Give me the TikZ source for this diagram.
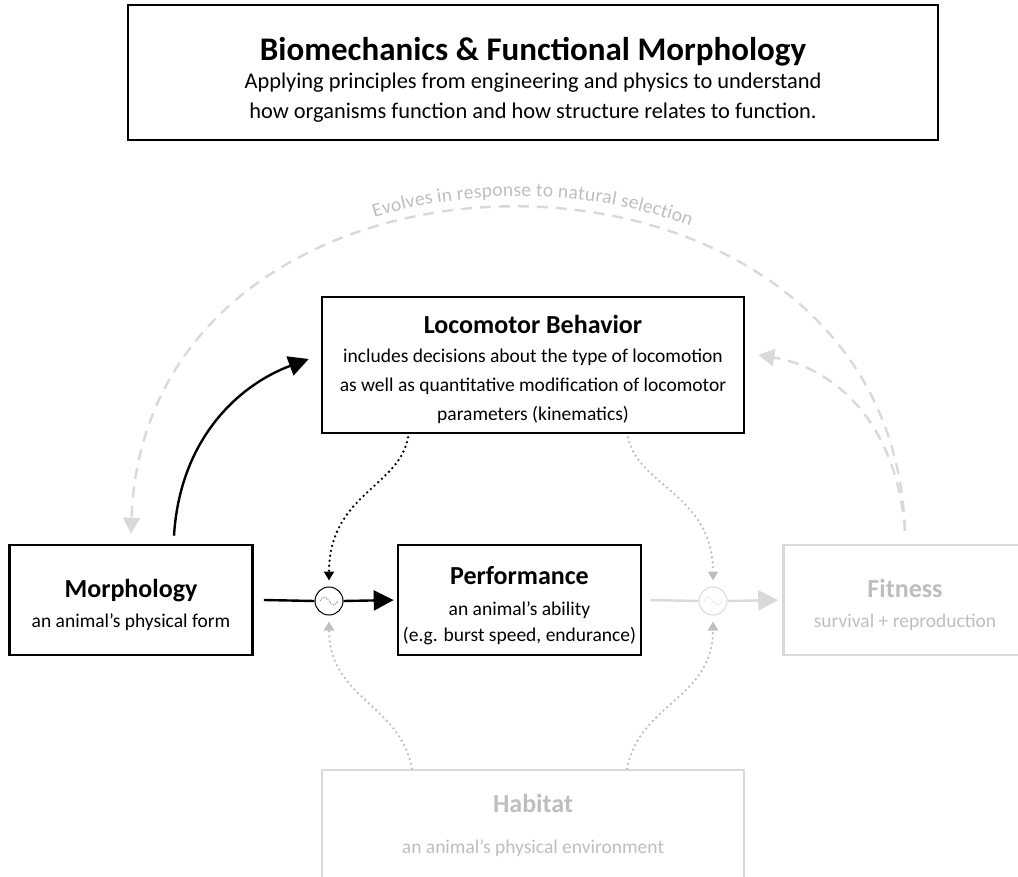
\documentclass[tikz,border=0pt]{standalone}
\usepackage{fontspec}
\setmainfont{Carlito}
\usetikzlibrary{arrows.meta, decorations.text}
\definecolor{paleline}{RGB}{217,217,217}
\definecolor{paletext}{RGB}{190,190,190}
\definecolor{wavegray}{RGB}{120,120,120}
\newcommand{\mainhead}{\fontsize{33}{36}\selectfont\bfseries}
\newcommand{\mainsub}{\fontsize{22.4}{30}\selectfont}
\newcommand{\boxhead}{\fontsize{26}{30}\selectfont\bfseries}
\newcommand{\boxtext}{\fontsize{19.5}{29}\selectfont}
\newcommand{\arclabel}{\fontsize{19.5}{22}\selectfont}
\newcommand{\headroom}[1]{\rule{0pt}{#1}}

\begin{document}
\begin{tikzpicture}[x=1pt, y=-1pt]
  \tikzstyle{topbox} = [rectangle, draw=black, line width=2pt, minimum width=810pt, minimum height=135pt, align=center, inner sep=0pt, font=\mainsub]
  \tikzstyle{keybox} = [rectangle, draw=black, line width=2.6pt, minimum width=243pt, minimum height=110pt, align=center, inner sep=0pt, font=\boxtext]
  \tikzstyle{widebox} = [keybox, minimum width=422pt, minimum height=136pt]
  \tikzstyle{fadebox} = [keybox, draw=paleline, text=paletext]
  \tikzstyle{mixer} = [circle, draw=black, line width=1pt, minimum size=28pt, inner sep=0pt]
  \tikzstyle{flowline} = [line width=2.4pt, black]
  \tikzstyle{fadeline} = [line width=2.4pt, paleline]
  \tikzstyle{evoline} = [line width=2.4pt, paleline, dash pattern=on 11pt off 8pt]
  \tikzstyle{cueline} = [line width=2.6pt, line cap=round, dash pattern=on 0pt off 5pt]

  \useasboundingbox (0,0) rectangle (1018,877);
  \clip (0,0) rectangle (1018,877);

  \node [topbox] (title) at (533, 72.5) {\headroom{37pt}{\mainhead Biomechanics \& Functional Morphology}\\[-2pt]
    Applying principles from engineering and physics to understand\\
    how organisms function and how structure relates to function.};

  \node [keybox] (morph) at (131, 600) {\headroom{29pt}{\boxhead Morphology}\\[1pt] an animal’s physical form};
  \node [keybox] (perf) at (519.5, 600) {\headroom{29pt}{\boxhead Performance}\\[2pt] an animal’s ability\\[-3pt] (e.g. burst speed, endurance)};
  \node [fadebox] (fit) at (905, 600) {\headroom{29pt}{\boxhead Fitness}\\[1pt] survival + reproduction};
  \node [widebox] (loco) at (533, 365) {\headroom{27pt}{\boxhead Locomotor Behavior}\\
    includes decisions about the type of locomotion\\
    as well as quantitative modification of locomotor\\
    parameters (kinematics)};
  \node [fadebox, minimum width=422pt, minimum height=110pt] (habitat) at (533, 825) {{\boxhead Habitat}\\[12pt] an animal’s physical environment};

  \node [mixer] (mixA) at (329, 601) {};
  \node [mixer, draw=paleline] (mixB) at (713, 601) {};
  \foreach \m/\c in {mixA/wavegray, mixB/paleline}
    \draw[\c, line width=0.8pt, dash pattern=on 1pt off 1pt] ([xshift=-9pt]\m.center) sin ++(4.5,-4) cos ++(4.5,4) sin ++(4.5,4) cos ++(4.5,-4);

  % main chain
  \draw[flowline] ([xshift=10pt]morph.east) -- (mixA.west);
  \draw[flowline, -{Triangle[width=20pt,length=20pt]}, shorten >=3pt] (mixA.east) -- (perf.west);
  \draw[fadeline] ([xshift=8pt]perf.east) -- (mixB.west);
  \draw[fadeline, -{Triangle[width=20pt,length=20pt]}, shorten >=4pt] (mixB.east) -- (fit.west);

  % morphology drives behavior
  \draw[flowline, -{Triangle[width=20pt,length=20pt]}] ([xshift=43pt, yshift=8pt]morph.north) .. controls +(6,-97) and +(-70,26) .. ([xshift=-12pt, yshift=6pt]loco.west);

  % selection feedback
  \draw[evoline, -{Triangle[width=17pt,length=16pt]}] ([yshift=13pt]fit.north) .. controls +(-15,-432) and +(15,-432) .. ([yshift=10pt]morph.north);
  \draw[evoline, -{Triangle[width=17pt,length=16pt]}] ([yshift=13pt]fit.north) .. controls +(-10,-122) and +(63,10) .. ([xshift=13pt, yshift=10pt]loco.east);
  \path[decorate, decoration={text along path, text align={align=center, left indent=30pt}, raise=12pt, text={|\arclabel\color{paletext}|Evolves in response to natural selection}}]
    ([yshift=10pt]morph.north) .. controls +(15,-432) and +(-15,-432) .. ([yshift=13pt]fit.north);

  % modulating influences
  \draw[cueline, black, -{Triangle[width=10pt,length=9pt]}, shorten >=6pt] ([xshift=-125pt, yshift=-3pt]loco.south) .. controls +(-8,49) and +(0,-92) .. (mixA.north);
  \draw[cueline, paletext, -{Triangle[width=10pt,length=9pt]}, shorten >=6pt] ([xshift=95pt, yshift=-3pt]loco.south) .. controls +(10,49) and +(0,-92) .. (mixB.north);
  \draw[cueline, paletext, -{Triangle[width=10pt,length=9pt]}, shorten >=6pt] ([xshift=-121pt]habitat.north) .. controls +(-12,-65) and +(0,83) .. (mixA.south);
  \draw[cueline, paletext, -{Triangle[width=10pt,length=9pt]}, shorten >=6pt] ([xshift=94pt]habitat.north) .. controls +(12,-65) and +(0,83) .. (mixB.south);
\end{tikzpicture}
\end{document}
